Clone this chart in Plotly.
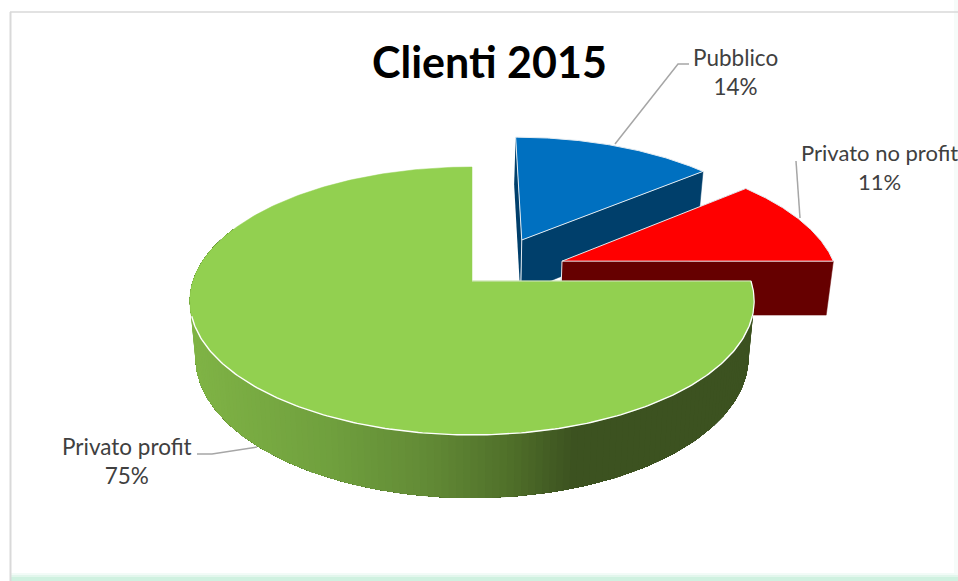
import numpy as np
import plotly.graph_objects as go

TITLE = "Clienti 2015"
categories = ["Pubblico", "Privato no profit", "Privato profit"]
values = [14, 11, 75]
top_colors = ["#0070C0", "#FF0000", "#92D050"]
wall_colors = ["#003F6B", "#660000"]
# Explosion offset of each slice in unit-pie coordinates (X right, Y into the picture)
explode = [(0.187, 0.328), (0.33, 0.155), (0.0, 0.0)]
radius = [0.985, 0.995, 1.0]

# Perspective camera of the 3-D pie
CX, K = 472.0, 0.149
TOP_CY, TOP_A, TOP_B = 281.0, 131.0, 279.0
LOW_CY, LOW_A, LOW_B = 336.0, 137.9, 273.5

# Side-wall shading of the big slice: pixel x -> colour
grad_x = [190, 330, 430, 510, 575, 760]
grad_rgb = [(128, 180, 70), (112, 160, 62), (98, 138, 54), (80, 112, 42), (60, 82, 32), (60, 82, 32)]


def top(X, Y):
    X, Y = np.asarray(X, float), np.asarray(Y, float)
    d = 1 + K * Y
    return CX + TOP_B * X / d, TOP_CY - TOP_A * Y / d


def low(X, Y):
    X, Y = np.asarray(X, float), np.asarray(Y, float)
    d = 1 + K * Y
    return CX + LOW_B * X / d, LOW_CY - LOW_A * Y / d


def arc(a0, a1, ox=0.0, oy=0.0, r=1.0, n=120):
    t = np.radians(np.linspace(a0, a1, n))
    return ox + r * np.sin(t), oy + r * np.cos(t)


def poly(xs, ys, fill, line=None, width=0.0):
    return go.Scatter(
        x=list(xs) + [xs[0]], y=list(ys) + [ys[0]], mode="lines", fill="toself",
        fillcolor=fill, line=dict(color=line or fill, width=width),
        hoverinfo="skip", showlegend=False,
    )


def line(xs, ys, color="white", width=1.2):
    return go.Scatter(x=list(xs), y=list(ys), mode="lines", line=dict(color=color, width=width),
                      hoverinfo="skip", showlegend=False)


# Slice angles follow from the values, clockwise from 12 o'clock
edges = np.concatenate([[0], np.cumsum(values)]) * 3.6

fig = go.Figure()

# Blue and red slices: cut faces first, then the top faces
for i in range(2):
    a0, a1 = edges[i], edges[i + 1]
    ox, oy = explode[i]
    r = radius[i]
    rad = np.radians
    # back cut face: only a thin sliver shows beside the top face
    ex, ey = ox + r * np.sin(rad(a0)), oy + r * np.cos(rad(a0))
    tx, ty = top([ox, ex], [oy, ey])
    _, ly = low([ex, ox], [ey, oy])
    fig.add_trace(poly(list(tx) + list(tx[::-1] - 1.5), list(ty) + list(ly), wall_colors[i]))
    # front cut face
    ex, ey = ox + r * np.sin(rad(a1)), oy + r * np.cos(rad(a1))
    tx, ty = top([ox, ex], [oy, ey])
    lx, ly = low([ex, ox], [ey, oy])
    fig.add_trace(poly(list(tx) + list(lx), list(ty) + list(ly), wall_colors[i], wall_colors[i], 0.5))
    fig.add_trace(line([tx[0], lx[1]], [ty[0], ly[1]], "#E4ECF2", 1.0))
    ax, ay = arc(a0, a1, ox, oy, r)
    tx, ty = top([ox] + list(ax), [oy] + list(ay))
    fig.add_trace(poly(list(tx), list(ty), top_colors[i], "#E4ECF2", 1.0))

# Big slice side wall: overlapping strips, each one running on to the far end, so no seams show
ax, ay = arc(edges[2], 295, n=160)
tx, ty = top(ax, ay)
lx, ly = low(ax, ay)
for j in range(len(ax) - 1):
    xm = (tx[j] + tx[j + 1]) / 2
    rgb = [np.interp(xm, grad_x, [c[k] for c in grad_rgb]) for k in range(3)]
    col = "rgb(%d,%d,%d)" % tuple(rgb)
    fig.add_trace(poly(list(tx[j:]) + list(lx[j:][::-1]), list(ty[j:]) + list(ly[j:][::-1]), col))

# Big slice top face
ax, ay = arc(edges[2], edges[3], n=300)
tx, ty = top([0] + list(ax), [0] + list(ay))
fig.add_trace(poly(list(tx), list(ty), top_colors[2], top_colors[2], 0.5))
# White rim on the front of the big slice
ax, ay = arc(105, 255, n=200)
tx, ty = top(ax, ay)
fig.add_trace(line(tx, ty, "white", 1.4))
# Pale edge along the horizontal cut
tx, ty = top([0, 1], [0, 0])
fig.add_trace(line(tx, ty, "#D8E8C8", 1.0))
ax, ay = arc(90, 105, n=30)
tx, ty = top(ax, ay)
fig.add_trace(line(tx, ty, "white", 1.2))

labels = [f"{c}<br>{v}%" for c, v in zip(categories, values)]
label_pos = [(735.5, 72), (879, 167), (127, 461)]
label_size = [22.5, 22, 22.5]
ann = [dict(x=x, y=y, text=t, showarrow=False, xanchor="center", yanchor="middle", align="center",
            font=dict(family="Lato", size=s, color="#404040"))
       for (x, y), t, s in zip(label_pos, labels, label_size)]
ann.append(dict(x=489.5, y=61, text=f"<b>{TITLE}</b>", showarrow=False, xanchor="center", yanchor="middle",
                font=dict(family="Lato", size=43, color="#000000")))

leaders = [
    ([615, 678, 689], [144, 64, 64]),
    ([800, 796], [218, 161]),
    ([257, 212, 197], [447, 454, 454]),
]
for lx_, ly_ in leaders:
    fig.add_trace(line(lx_, ly_, "#A6A6A6", 1.5))

shapes = [
    dict(type="rect", x0=954, x1=958, y0=0, y1=581, fillcolor="#F6FBF9", line_width=0, layer="below"),
    dict(type="rect", x0=10, x1=958, y0=573, y1=575, fillcolor="#F2FBF7", line_width=0, layer="below"),
    dict(type="rect", x0=10, x1=958, y0=575, y1=577, fillcolor="#E2F6EC", line_width=0, layer="below"),
    dict(type="rect", x0=10, x1=958, y0=577, y1=581, fillcolor="#CFF1E0", line_width=0, layer="below"),
    dict(type="line", x0=10.5, x1=10.5, y0=12, y1=581, line=dict(color="#D9D9D9", width=2), layer="below"),
    dict(type="line", x0=10, x1=958, y0=12, y1=12, line=dict(color="#D9D9D9", width=1.5), layer="below"),
]

fig.update_layout(
    width=958, height=581, margin=dict(l=0, r=0, t=0, b=0),
    paper_bgcolor="white", plot_bgcolor="rgba(0,0,0,0)", showlegend=False,
    xaxis=dict(range=[0, 958], visible=False, fixedrange=True),
    yaxis=dict(range=[581, 0], visible=False, fixedrange=True),
    annotations=ann, shapes=shapes,
)
fig.write_html("out.html", post_script="document.body.style.margin='0';", config={"displayModeBar": False})
